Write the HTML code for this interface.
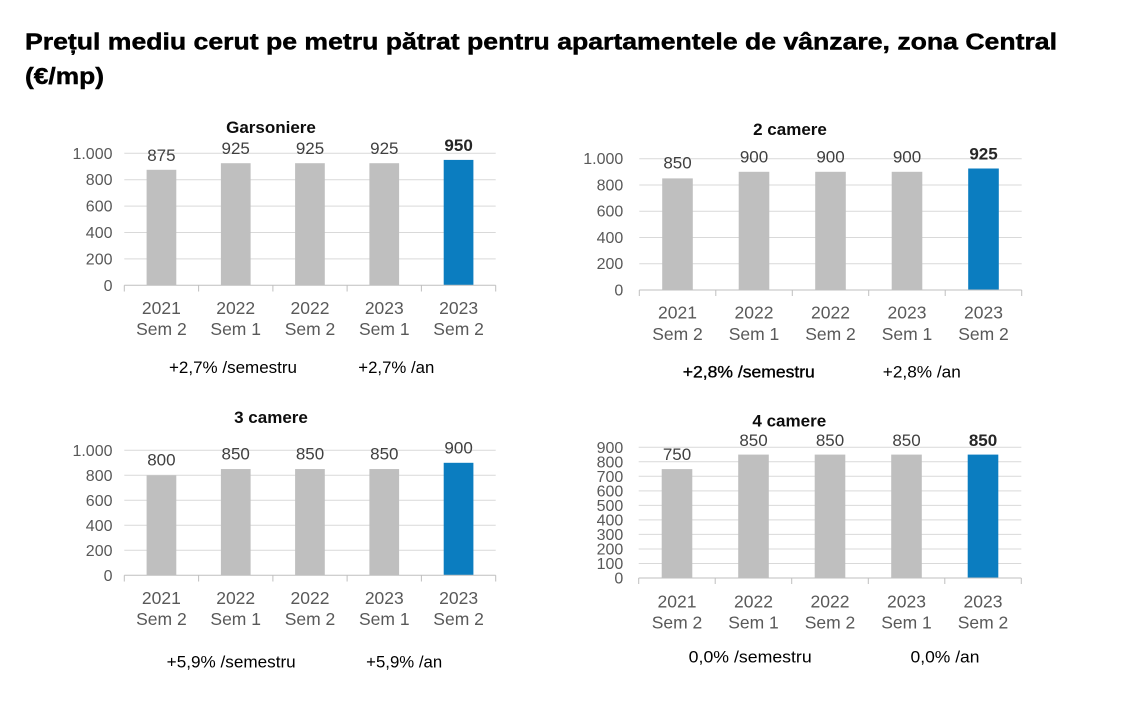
<!DOCTYPE html>
<html><head><meta charset="utf-8"><style>
html,body{margin:0;padding:0;background:#fff;}
svg{display:block;}
text{font-family:"Liberation Sans",sans-serif;}
.t{font-weight:bold;fill:#000;stroke:#000;stroke-width:0.45;}
.ct{font-weight:bold;font-size:17px;fill:#0d0d0d;text-anchor:middle;}
.yl{font-size:16px;fill:#595959;text-anchor:end;}
.cl{font-size:17.5px;fill:#595959;text-anchor:middle;}
.vl{font-size:17px;fill:#404040;text-anchor:middle;}
.vb{font-size:17px;fill:#262626;text-anchor:middle;font-weight:bold;}
.sm{font-size:16.5px;fill:#000;text-anchor:middle;}
.g{stroke:#d9d9d9;stroke-width:1;}
.ax{stroke:#bfbfbf;stroke-width:1;}
.gb{fill:#bfbfbf;}
.bb{fill:#0b7dc0;}
</style></head><body>
<svg width="1134" height="714" viewBox="0 0 1134 714" xmlns="http://www.w3.org/2000/svg">
<text class="t" x="25" y="49.5" font-size="23" textLength="1032" lengthAdjust="spacingAndGlyphs">Prețul mediu cerut pe metru pătrat pentru apartamentele de vânzare, zona Central</text>
<text class="t" x="25" y="84" font-size="23" textLength="79" lengthAdjust="spacingAndGlyphs">(€/mp)</text>

<!-- Chart 1 Garsoniere -->
<text class="ct" x="271" y="133">Garsoniere</text>
<g>
<line class="g" x1="124.3" x2="495.7" y1="153.3" y2="153.3"/>
<line class="g" x1="124.3" x2="495.7" y1="179.7" y2="179.7"/>
<line class="g" x1="124.3" x2="495.7" y1="206.1" y2="206.1"/>
<line class="g" x1="124.3" x2="495.7" y1="232.5" y2="232.5"/>
<line class="g" x1="124.3" x2="495.7" y1="258.9" y2="258.9"/>
<text class="yl" x="112.5" y="158.8">1.000</text>
<text class="yl" x="112.5" y="185.2">800</text>
<text class="yl" x="112.5" y="211.6">600</text>
<text class="yl" x="112.5" y="238">400</text>
<text class="yl" x="112.5" y="264.4">200</text>
<text class="yl" x="112.5" y="290.8">0</text>
<rect class="gb" x="146.6" y="169.8" width="29.7" height="115.5"/>
<rect class="gb" x="220.9" y="163.2" width="29.7" height="122.1"/>
<rect class="gb" x="295.1" y="163.2" width="29.7" height="122.1"/>
<rect class="gb" x="369.4" y="163.2" width="29.7" height="122.1"/>
<rect class="bb" x="443.7" y="159.9" width="29.7" height="125.4"/>
<line class="ax" x1="124.3" x2="495.7" y1="285.3" y2="285.3"/>
<line class="ax" x1="124.3" x2="124.3" y1="285.3" y2="291.5"/>
<line class="ax" x1="198.6" x2="198.6" y1="285.3" y2="291.5"/>
<line class="ax" x1="272.9" x2="272.9" y1="285.3" y2="291.5"/>
<line class="ax" x1="347.1" x2="347.1" y1="285.3" y2="291.5"/>
<line class="ax" x1="421.4" x2="421.4" y1="285.3" y2="291.5"/>
<line class="ax" x1="495.7" x2="495.7" y1="285.3" y2="291.5"/>
<text class="vl" x="161.4" y="160.8">875</text>
<text class="vl" x="235.7" y="154.2">925</text>
<text class="vl" x="310" y="154.2">925</text>
<text class="vl" x="384.3" y="154.2">925</text>
<text class="vb" x="458.6" y="151">950</text>
<text class="cl" x="161.4" y="314">2021</text><text class="cl" x="161.4" y="335">Sem 2</text>
<text class="cl" x="235.7" y="314">2022</text><text class="cl" x="235.7" y="335">Sem 1</text>
<text class="cl" x="310" y="314">2022</text><text class="cl" x="310" y="335">Sem 2</text>
<text class="cl" x="384.3" y="314">2023</text><text class="cl" x="384.3" y="335">Sem 1</text>
<text class="cl" x="458.6" y="314">2023</text><text class="cl" x="458.6" y="335">Sem 2</text>
<text class="sm" x="233" y="373" textLength="128" lengthAdjust="spacingAndGlyphs">+2,7% /semestru</text>
<text class="sm" x="396.3" y="373" textLength="76" lengthAdjust="spacingAndGlyphs">+2,7% /an</text>
</g>

<!-- Chart 2 2 camere -->
<text class="ct" x="790" y="135">2 camere</text>
<g>
<line class="g" x1="639.3" x2="1021.7" y1="158.7" y2="158.7"/>
<line class="g" x1="639.3" x2="1021.7" y1="185" y2="185"/>
<line class="g" x1="639.3" x2="1021.7" y1="211.2" y2="211.2"/>
<line class="g" x1="639.3" x2="1021.7" y1="237.5" y2="237.5"/>
<line class="g" x1="639.3" x2="1021.7" y1="263.7" y2="263.7"/>
<text class="yl" x="623.3" y="164.2">1.000</text>
<text class="yl" x="623.3" y="190.5">800</text>
<text class="yl" x="623.3" y="216.7">600</text>
<text class="yl" x="623.3" y="243">400</text>
<text class="yl" x="623.3" y="269.2">200</text>
<text class="yl" x="623.3" y="295.5">0</text>
<rect class="gb" x="662.2" y="178.4" width="30.6" height="111.6"/>
<rect class="gb" x="738.7" y="171.8" width="30.6" height="118.2"/>
<rect class="gb" x="815.2" y="171.8" width="30.6" height="118.2"/>
<rect class="gb" x="891.7" y="171.8" width="30.6" height="118.2"/>
<rect class="bb" x="968.2" y="168.5" width="30.6" height="121.5"/>
<line class="ax" x1="639.3" x2="1021.7" y1="290" y2="290"/>
<line class="ax" x1="639.3" x2="639.3" y1="290" y2="296"/>
<line class="ax" x1="715.8" x2="715.8" y1="290" y2="296"/>
<line class="ax" x1="792.3" x2="792.3" y1="290" y2="296"/>
<line class="ax" x1="868.7" x2="868.7" y1="290" y2="296"/>
<line class="ax" x1="945.2" x2="945.2" y1="290" y2="296"/>
<line class="ax" x1="1021.7" x2="1021.7" y1="290" y2="296"/>
<text class="vl" x="677.5" y="168.7">850</text>
<text class="vl" x="754" y="162.7">900</text>
<text class="vl" x="830.5" y="162.7">900</text>
<text class="vl" x="907" y="162.7">900</text>
<text class="vb" x="983.5" y="159.3">925</text>
<text class="cl" x="677.5" y="318.7">2021</text><text class="cl" x="677.5" y="340">Sem 2</text>
<text class="cl" x="754" y="318.7">2022</text><text class="cl" x="754" y="340">Sem 1</text>
<text class="cl" x="830.5" y="318.7">2022</text><text class="cl" x="830.5" y="340">Sem 2</text>
<text class="cl" x="907" y="318.7">2023</text><text class="cl" x="907" y="340">Sem 1</text>
<text class="cl" x="983.5" y="318.7">2023</text><text class="cl" x="983.5" y="340">Sem 2</text>
<text class="sm" x="748.8" y="377.5" stroke="#000" stroke-width="0.35" textLength="132" lengthAdjust="spacingAndGlyphs">+2,8% /semestru</text>
<text class="sm" x="921.8" y="377.5" textLength="78" lengthAdjust="spacingAndGlyphs">+2,8% /an</text>
</g>

<!-- Chart 3 3 camere -->
<text class="ct" x="271" y="423">3 camere</text>
<g>
<line class="g" x1="124.3" x2="495.7" y1="450.3" y2="450.3"/>
<line class="g" x1="124.3" x2="495.7" y1="475.3" y2="475.3"/>
<line class="g" x1="124.3" x2="495.7" y1="500.3" y2="500.3"/>
<line class="g" x1="124.3" x2="495.7" y1="525.3" y2="525.3"/>
<line class="g" x1="124.3" x2="495.7" y1="550.3" y2="550.3"/>
<text class="yl" x="112.5" y="455.8">1.000</text>
<text class="yl" x="112.5" y="480.8">800</text>
<text class="yl" x="112.5" y="505.8">600</text>
<text class="yl" x="112.5" y="530.8">400</text>
<text class="yl" x="112.5" y="555.8">200</text>
<text class="yl" x="112.5" y="580.8">0</text>
<rect class="gb" x="146.6" y="475.3" width="29.7" height="100"/>
<rect class="gb" x="220.9" y="469.05" width="29.7" height="106.25"/>
<rect class="gb" x="295.1" y="469.05" width="29.7" height="106.25"/>
<rect class="gb" x="369.4" y="469.05" width="29.7" height="106.25"/>
<rect class="bb" x="443.7" y="462.8" width="29.7" height="112.5"/>
<line class="ax" x1="124.3" x2="495.7" y1="575.3" y2="575.3"/>
<line class="ax" x1="124.3" x2="124.3" y1="575.3" y2="581.5"/>
<line class="ax" x1="198.6" x2="198.6" y1="575.3" y2="581.5"/>
<line class="ax" x1="272.9" x2="272.9" y1="575.3" y2="581.5"/>
<line class="ax" x1="347.1" x2="347.1" y1="575.3" y2="581.5"/>
<line class="ax" x1="421.4" x2="421.4" y1="575.3" y2="581.5"/>
<line class="ax" x1="495.7" x2="495.7" y1="575.3" y2="581.5"/>
<text class="vl" x="161.4" y="465.3">800</text>
<text class="vl" x="235.7" y="459.3">850</text>
<text class="vl" x="310" y="459.3">850</text>
<text class="vl" x="384.3" y="459.3">850</text>
<text class="vl" x="458.6" y="453.3">900</text>
<text class="cl" x="161.4" y="604">2021</text><text class="cl" x="161.4" y="625">Sem 2</text>
<text class="cl" x="235.7" y="604">2022</text><text class="cl" x="235.7" y="625">Sem 1</text>
<text class="cl" x="310" y="604">2022</text><text class="cl" x="310" y="625">Sem 2</text>
<text class="cl" x="384.3" y="604">2023</text><text class="cl" x="384.3" y="625">Sem 1</text>
<text class="cl" x="458.6" y="604">2023</text><text class="cl" x="458.6" y="625">Sem 2</text>
<text class="sm" x="231.2" y="667.5" textLength="129" lengthAdjust="spacingAndGlyphs">+5,9% /semestru</text>
<text class="sm" x="404.2" y="667.5" textLength="76" lengthAdjust="spacingAndGlyphs">+5,9% /an</text>
</g>

<!-- Chart 4 4 camere -->
<text class="ct" x="789.3" y="426.7">4 camere</text>
<g>
<line class="g" x1="638.7" x2="1021.3" y1="447.3" y2="447.3"/>
<line class="g" x1="638.7" x2="1021.3" y1="461.8" y2="461.8"/>
<line class="g" x1="638.7" x2="1021.3" y1="476.3" y2="476.3"/>
<line class="g" x1="638.7" x2="1021.3" y1="490.9" y2="490.9"/>
<line class="g" x1="638.7" x2="1021.3" y1="505.4" y2="505.4"/>
<line class="g" x1="638.7" x2="1021.3" y1="519.9" y2="519.9"/>
<line class="g" x1="638.7" x2="1021.3" y1="534.4" y2="534.4"/>
<line class="g" x1="638.7" x2="1021.3" y1="549" y2="549"/>
<line class="g" x1="638.7" x2="1021.3" y1="563.5" y2="563.5"/>
<text class="yl" x="623.3" y="452.8">900</text>
<text class="yl" x="623.3" y="467.3">800</text>
<text class="yl" x="623.3" y="481.8">700</text>
<text class="yl" x="623.3" y="496.4">600</text>
<text class="yl" x="623.3" y="510.9">500</text>
<text class="yl" x="623.3" y="525.4">400</text>
<text class="yl" x="623.3" y="539.9">300</text>
<text class="yl" x="623.3" y="554.5">200</text>
<text class="yl" x="623.3" y="569">100</text>
<text class="yl" x="623.3" y="583.5">0</text>
<rect class="gb" x="661.7" y="469.1" width="30.6" height="108.9"/>
<rect class="gb" x="738.2" y="454.6" width="30.6" height="123.4"/>
<rect class="gb" x="814.7" y="454.6" width="30.6" height="123.4"/>
<rect class="gb" x="891.2" y="454.6" width="30.6" height="123.4"/>
<rect class="bb" x="967.7" y="454.6" width="30.6" height="123.4"/>
<line class="ax" x1="638.7" x2="1021.3" y1="578" y2="578"/>
<line class="ax" x1="638.7" x2="638.7" y1="578" y2="584"/>
<line class="ax" x1="715.2" x2="715.2" y1="578" y2="584"/>
<line class="ax" x1="791.7" x2="791.7" y1="578" y2="584"/>
<line class="ax" x1="868.3" x2="868.3" y1="578" y2="584"/>
<line class="ax" x1="944.8" x2="944.8" y1="578" y2="584"/>
<line class="ax" x1="1021.3" x2="1021.3" y1="578" y2="584"/>
<text class="vl" x="677" y="460">750</text>
<text class="vl" x="753.5" y="446">850</text>
<text class="vl" x="830" y="446">850</text>
<text class="vl" x="906.5" y="446">850</text>
<text class="vb" x="983" y="446">850</text>
<text class="cl" x="677" y="607.7">2021</text><text class="cl" x="677" y="628.7">Sem 2</text>
<text class="cl" x="753.5" y="607.7">2022</text><text class="cl" x="753.5" y="628.7">Sem 1</text>
<text class="cl" x="830" y="607.7">2022</text><text class="cl" x="830" y="628.7">Sem 2</text>
<text class="cl" x="906.5" y="607.7">2023</text><text class="cl" x="906.5" y="628.7">Sem 1</text>
<text class="cl" x="983" y="607.7">2023</text><text class="cl" x="983" y="628.7">Sem 2</text>
<text class="sm" x="750.2" y="662.5" textLength="123" lengthAdjust="spacingAndGlyphs">0,0% /semestru</text>
<text class="sm" x="945" y="662.5" textLength="69" lengthAdjust="spacingAndGlyphs">0,0% /an</text>
</g>
</svg>
</body></html>
